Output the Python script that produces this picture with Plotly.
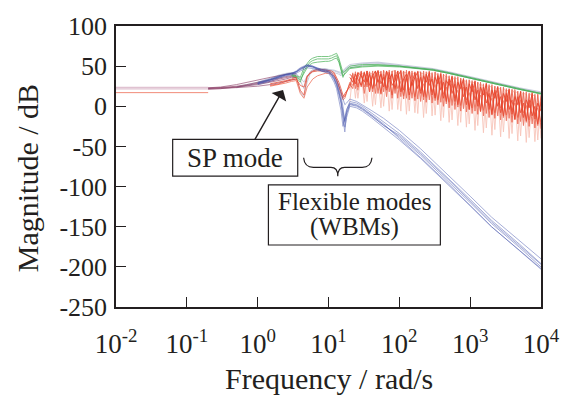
import plotly.graph_objects as go

# ---------------- data ----------------
F_FLAT = [0.01, 0.2]
FLAT_PINK_A = [23.5, 23.5]
FLAT_PINK_B = [21.8, 21.8]
FLAT_SALMON = [17.0, 17.0]

F_PURPLE = [0.2, 0.3, 0.5, 0.7, 1.0, 1.5, 2.0, 2.5, 3.0, 3.5]
PURPLE_1 = [23, 24, 27, 30, 33, 36, 38, 40, 41, 40]
PURPLE_2 = [22, 23, 25, 27, 30, 33, 35, 37, 38, 38]
PURPLE_3 = [22, 22, 24, 25, 27, 30, 32, 34, 36, 36]
PURPLE_4 = [21, 22, 23, 24, 25, 27, 29, 31, 33, 34]
PURPLE_5 = [23, 23, 24, 26, 28, 31, 34, 36, 37, 36]

F_GRAY = [0.5, 1.0, 1.5, 2.0, 2.5, 3.0, 3.5, 4.0, 4.5, 5.0, 5.5, 6, 7, 8, 9, 10,
          12, 14, 15, 16, 17, 20, 30, 50, 100, 200, 300, 500, 1000, 2000, 5000, 10000]
GRAY_1 = [24, 30, 35, 39, 41, 42, 41, 32, 22, 36, 43, 46, 47, 46, 46, 45,
          44, 42, 40, 43, 46, 50, 53, 54, 51, 48, 46, 42, 36, 30, 22, 17]
GRAY_2 = [23, 28, 33, 37, 40, 41, 40, 36, 30, 38, 42, 44, 45, 45, 44, 44,
          42, 40, 38, 41, 44, 48, 51, 53, 50, 47, 45, 41, 35, 29, 21, 16]
GRAY_3 = [24, 29, 34, 38, 40, 42, 38, 18, 12, 30, 40, 44, 46, 47, 47, 46,
          45, 43, 42, 44, 47, 52, 54, 55, 52, 49, 47, 43, 37, 31, 23, 18]

F_GREEN = [3.0, 3.5, 4.0, 4.5, 5.0, 5.5, 6, 7, 8, 9, 10, 11, 12, 13, 14, 15, 16, 17,
           20, 30, 50, 100, 200, 300, 500, 1000, 2000, 5000, 10000]
GREEN_1 = [40, 38, 36, 48, 54, 58, 60, 62, 62, 62, 62, 63, 65, 66, 60, 50, 42, 44,
           50, 52, 52, 50, 48, 46, 42, 36, 30, 22, 16]
GREEN_2 = [38, 36, 30, 44, 50, 55, 57, 59, 59, 59, 59, 60, 62, 63, 57, 46, 38, 40,
           47, 49, 50, 49, 47, 45, 41, 35, 29, 21, 15]
GREEN_3 = [39, 37, 33, 42, 48, 52, 54, 55, 56, 56, 56, 57, 59, 60, 55, 44, 36, 42,
           48, 50, 51, 50, 47, 45, 41, 35, 29, 21, 16]

F_BLUE = [1.0, 1.5, 2, 2.5, 3, 3.5, 4, 5, 6, 7, 8, 9, 10, 11, 12, 13, 14, 15, 16, 17,
          18, 20, 25, 30, 40, 60, 100, 200, 500, 1000, 2000, 5000, 10000]
BLUE_1 = [30, 34, 38, 40, 41, 44, 48, 52, 50, 47, 45, 45, 44, 40, 36, 30, 22, 12, 0, -20,
          -5, 6, 4, 0, -8, -19, -34, -57, -90, -116, -142, -172, -196]
BLUE_2 = [28, 33, 37, 39, 40, 42, 46, 50, 49, 46, 44, 43, 42, 38, 33, 26, 16, 4, -15, -32,
          -10, 2, 0, -4, -12, -23, -38, -61, -94, -120, -146, -176, -200]
BLUE_3 = [27, 31, 35, 38, 39, 41, 44, 48, 47, 45, 43, 42, 41, 36, 30, 22, 10, -5, -25, -12,
          -4, 4, 2, -2, -10, -22, -40, -64, -97, -123, -150, -180, -203]
BLUE_4 = [29, 33, 37, 40, 41, 43, 47, 51, 50, 48, 46, 46, 45, 42, 38, 33, 26, 18, 8, 2,
          4, 9, 6, 2, -5, -15, -30, -53, -86, -112, -138, -168, -190]
BLUE_5 = [28, 32, 36, 39, 40, 43, 46, 50, 49, 47, 45, 44, 43, 39, 34, 27, 18, 8, -6, -18,
          -8, 3, 1, -3, -11, -24, -36, -59, -92, -118, -144, -174, -197]
BLUE_6 = [29, 33, 37, 39, 41, 43, 47, 51, 49, 46, 44, 44, 43, 40, 35, 28, 19, 6, -10, -26,
          -14, 0, -2, -6, -14, -26, -42, -65, -98, -124, -150, -179, -202]

F_RED_MID = [1.5, 2.0, 2.5, 3.0, 3.5, 4.0, 4.5, 5.0, 5.5, 6.0, 7.0, 8.0, 9.0, 10, 11, 12,
             13, 14, 15, 16, 17]
RED_MID_1 = [28, 30, 32, 34, 36, 20, 14, 36, 42, 44, 46, 46, 45, 44, 44, 42, 36, 30, 22, 14, 12]
RED_MID_2 = [26, 28, 31, 33, 34, 26, 24, 38, 41, 43, 44, 44, 43, 43, 42, 40, 33, 26, 18, 10, 16]
RED_MID_3 = [25, 27, 29, 31, 32, 16, 10, 24, 30, 34, 38, 40, 41, 41, 40, 38, 32, 24, 16, 8, 10]

F_RED_HF = [20, 22, 24, 26, 29, 32, 35, 38, 42, 46, 50, 55, 60, 66, 72, 79, 87, 95,
            105, 115, 126, 138, 151, 166, 182, 200, 220, 240, 265, 290, 320, 350, 385,
            420, 460, 505, 555, 610, 670, 735, 805, 885, 970, 1065, 1170, 1280, 1400,
            1540, 1690, 1850, 2030, 2230, 2450, 2690, 2950, 3240, 3550, 3900, 4280,
            4700, 5150, 5650, 6200, 6800, 7500, 8200, 9000, 10000]
RED_HF_1 = [28, 22, 43, 24, 44, 16, 44, 18, 44, 16, 45, 15, 45, 12, 45, 10, 45, 10, 45, 9,
            45, 8, 44, 7, 44, 6, 44, 5, 44, 4, 43, 2, 42, 0, 40, -2, 38, -4, 37, -6,
            35, -7, 33, -9, 32, -10, 30, -12, 29, -14, 27, -15, 25, -17, 24, -18, 22, -20,
            21, -22, 19, -24, 18, -25, 17, -27, 15, -28]
RED_HF_2 = [24, 41, 22, 42, 24, 43, 24, 43, 18, 44, 16, 44, 18, 44, 18, 44, 16, 44, 12, 44,
            10, 43, 10, 43, 9, 43, 8, 43, 8, 42, 7, 41, 5, 40, 3, 38, 1, 37, -1, 35,
            -3, 33, -4, 32, -6, 30, -7, 28, -9, 27, -11, 25, -12, 24, -14, 22, -15, 21,
            -17, 19, -19, 18, -20, 16, -22, 15, -24, 14]
RED_HF_3 = [30, 26, 35, 20, 42, 24, 36, 18, 40, 25, 33, 16, 40, 23, 34, 14, 39, 22, 31, 13,
            36, 20, 30, 12, 35, 19, 28, 11, 34, 18, 27, 8, 32, 15, 24, 5, 28, 11, 20, 1,
            24, 8, 17, -2, 21, 5, 14, -5, 18, 1, 10, -8, 15, -2, 7, -11, 12, -5, 4, -14,
            8, -8, 1, -17, 6, -11, -2, -20]
RED_HF_4 = [6, 39, 40, 10, 41, 41, 6, 41, 41, 2, 42, 42, 0, 42, 42, -4, 42, 42, -6, 42,
            42, -6, 41, 41, -9, 41, 41, -9, 41, 40, -11, 39, 39, -14, 37, 36, -17, 35, 34, -20,
            32, 31, -22, 30, 29, -24, 27, 26, -27, 25, 24, -29, 22, 22, -32, 20, 19, -34,
            18, 17, -37, 16, 15, -39, 14, 13, -42, 12]
RED_HF_5 = [36, 30, 40, 34, 26, 42, 30, 40, 22, 38, 44, 28, 36, 20, 42, 26, 32, 44, 18, 34,
            40, 14, 30, 42, 22, 36, 12, 40, 26, 34, 10, 38, 20, 30, 6, 34, 16, 28, 2, 32,
            12, 24, -4, 28, 8, 20, -6, 24, 4, 16, -10, 20, 0, 12, -12, 16, -4, 8, -16, 12,
            -8, 4, -18, 8, -12, 0, -22, 6]
RED_HF_6 = [40, 36, 28, 42, 38, 30, 44, 26, 38, 44, 30, 40, 24, 44, 34, 40, 22, 38, 44, 20,
            34, 44, 26, 36, 43, 16, 38, 30, 42, 14, 36, 28, 40, 10, 32, 26, 37, 6, 30, 22,
            34, 2, 28, 18, 31, 0, 24, 14, 28, -4, 20, 10, 24, -8, 16, 6, 21, -10, 12, 2,
            18, -14, 8, -2, 16, -16, 4, -6]
RED_HF_7 = [20, 42, 10, 40, 43, 4, 38, 43, 0, 44, 36, -2, 44, 40, -6, 44, 44, -4, 38, 44,
            -10, 43, 40, -8, 42, 43, -14, 40, 43, -12, 42, 38, -18, 40, 36, -20, 37, 32, -24, 35,
            30, -26, 32, 28, -30, 30, 25, -33, 28, 22, -36, 25, 20, -38, 23, 18, -40, 21, 16, -43,
            19, 14, -45, 17, 12, -44, 15, -40]

X_TICK_EXP = [-2, -1, 0, 1, 2, 3, 4]
Y_TICKS = [100, 50, 0, -50, -100, -150, -200, -250]

# ---------------- styling / layout ----------------
W, H = 572, 402
L, R, T, B = 116, 551, 17, 307
FONT = "Liberation Serif, Times New Roman, serif"
INK = "#231f20"


def px(x):
    return (x - L) / (R - L)


def py(y):
    return (B - y) / (B - T)


fig = go.Figure()


def add_line(x, y, color, width=0.9, opacity=0.75):
    fig.add_trace(go.Scatter(x=x, y=y, mode="lines", opacity=opacity,
                             line=dict(color=color, width=width),
                             hoverinfo="skip", showlegend=False))


# flat low-frequency segments
add_line(F_FLAT, FLAT_PINK_A, "#d9b3c6", 1.2, 0.8)
add_line(F_FLAT, FLAT_PINK_B, "#d9b3c6", 1.2, 0.8)
add_line(F_FLAT, FLAT_SALMON, "#f0806c", 1.0, 0.9)

# gray family
for g in (GRAY_1, GRAY_2, GRAY_3):
    add_line(F_GRAY, g, "#aab2cc", 0.9, 0.7)

# purple family
for p in (PURPLE_1, PURPLE_2, PURPLE_3, PURPLE_4, PURPLE_5):
    add_line(F_PURPLE, p, "#8c3e66", 0.9, 0.7)

# green family
for g in (GREEN_1, GREEN_2, GREEN_3):
    add_line(F_GREEN, g, "#3fae4e", 0.9, 0.75)

# red family
add_line(F_RED_HF, RED_HF_4, "#f4a796", 0.9, 0.65)
add_line(F_RED_HF, RED_HF_7, "#f4a796", 0.9, 0.65)
add_line(F_RED_MID + F_RED_HF, RED_MID_3 + RED_HF_3, "#ef6a52", 1.0, 0.75)
add_line(F_RED_MID + F_RED_HF, RED_MID_2 + RED_HF_2, "#e8432a", 1.0, 0.7)
add_line(F_RED_MID + F_RED_HF, RED_MID_1 + RED_HF_1, "#e8432a", 1.0, 0.7)
add_line(F_RED_HF, RED_HF_5, "#e8432a", 1.0, 0.85)
add_line(F_RED_HF, RED_HF_6, "#e8432a", 1.0, 0.85)

# blue family
for b in (BLUE_1, BLUE_2, BLUE_3, BLUE_4, BLUE_5, BLUE_6):
    add_line(F_BLUE, b, "#4656ad", 0.8, 0.6)

fig.update_xaxes(
    type="log", range=[-2, 4],
    tickvals=[10.0 ** e for e in X_TICK_EXP],
    ticktext=["10<sup>%d</sup>" % e for e in X_TICK_EXP],
    ticks="inside", ticklen=10, tickwidth=1.3, tickcolor=INK,
    showline=True, linecolor=INK, linewidth=1.5, mirror=True,
    showgrid=False, zeroline=False,
    tickfont=dict(family=FONT, size=27, color=INK),
    ticklabelstandoff=12,
)
fig.update_yaxes(
    range=[-250, 100],
    tickvals=Y_TICKS, ticktext=[str(v) for v in Y_TICKS],
    ticks="inside", ticklen=10, tickwidth=1.3, tickcolor=INK,
    showline=True, linecolor=INK, linewidth=1.5, mirror=True,
    showgrid=False, zeroline=False,
    tickfont=dict(family=FONT, size=26, color=INK),
    ticklabelstandoff=2,
)

shapes = [
    # SP mode box
    dict(type="rect", xref="paper", yref="paper", x0=px(174), x1=px(302),
         y0=py(172), y1=py(134), line=dict(color=INK, width=1.2),
         fillcolor="white", layer="above"),
    # Flexible modes box
    dict(type="rect", xref="paper", yref="paper", x0=px(272), x1=px(448),
         y0=py(243), y1=py(181), line=dict(color=INK, width=1.2),
         fillcolor="white", layer="above"),
    # curly brace
    dict(type="path", xref="paper", yref="paper", layer="above",
         line=dict(color=INK, width=1.2),
         path=("M {a},{b} Q {c},{d} {e},{d} L {f},{d} Q {g},{d} {g},{h} "
               "Q {g},{d} {i},{d} L {j},{d} Q {k},{d} {l},{b}").format(
             a=px(308), b=py(153), c=px(309), d=py(163), e=px(318), f=px(336),
             g=px(343), h=py(172), i=px(350), j=px(368), k=px(377), l=px(378))),
]

annotations = [
    dict(xref="paper", yref="paper", x=px(238), y=py(153), text="SP mode",
         showarrow=False, font=dict(family=FONT, size=27, color=INK),
         xanchor="center", yanchor="middle"),
    dict(xref="paper", yref="paper", x=px(360), y=py(198), text="Flexible modes",
         showarrow=False, font=dict(family=FONT, size=25, color=INK),
         xanchor="center", yanchor="middle"),
    dict(xref="paper", yref="paper", x=px(360), y=py(224), text="(WBMs)",
         showarrow=False, font=dict(family=FONT, size=25, color=INK),
         xanchor="center", yanchor="middle"),
    # arrow to SP mode
    dict(xref="paper", yref="paper", x=px(287), y=py(83), ax=-29, ay=51,
         axref="pixel", ayref="pixel", text="", showarrow=True,
         arrowhead=1, arrowsize=2.0, arrowwidth=1.4, arrowcolor=INK),
    # axis titles
    dict(xref="paper", yref="paper", x=px(334), y=py(381), text="Frequency / rad/s",
         showarrow=False, font=dict(family=FONT, size=30, color=INK),
         xanchor="center", yanchor="middle"),
    dict(xref="paper", yref="paper", x=px(25), y=py(174), text="Magnitude / dB",
         textangle=-90, showarrow=False, font=dict(family=FONT, size=30, color=INK),
         xanchor="center", yanchor="middle"),
]

fig.update_layout(
    width=W, height=H,
    margin=dict(l=L, r=W - R, t=T, b=H - B),
    paper_bgcolor="white", plot_bgcolor="white",
    shapes=shapes, annotations=annotations,
    showlegend=False,
)

fig.write_html("out.html")
